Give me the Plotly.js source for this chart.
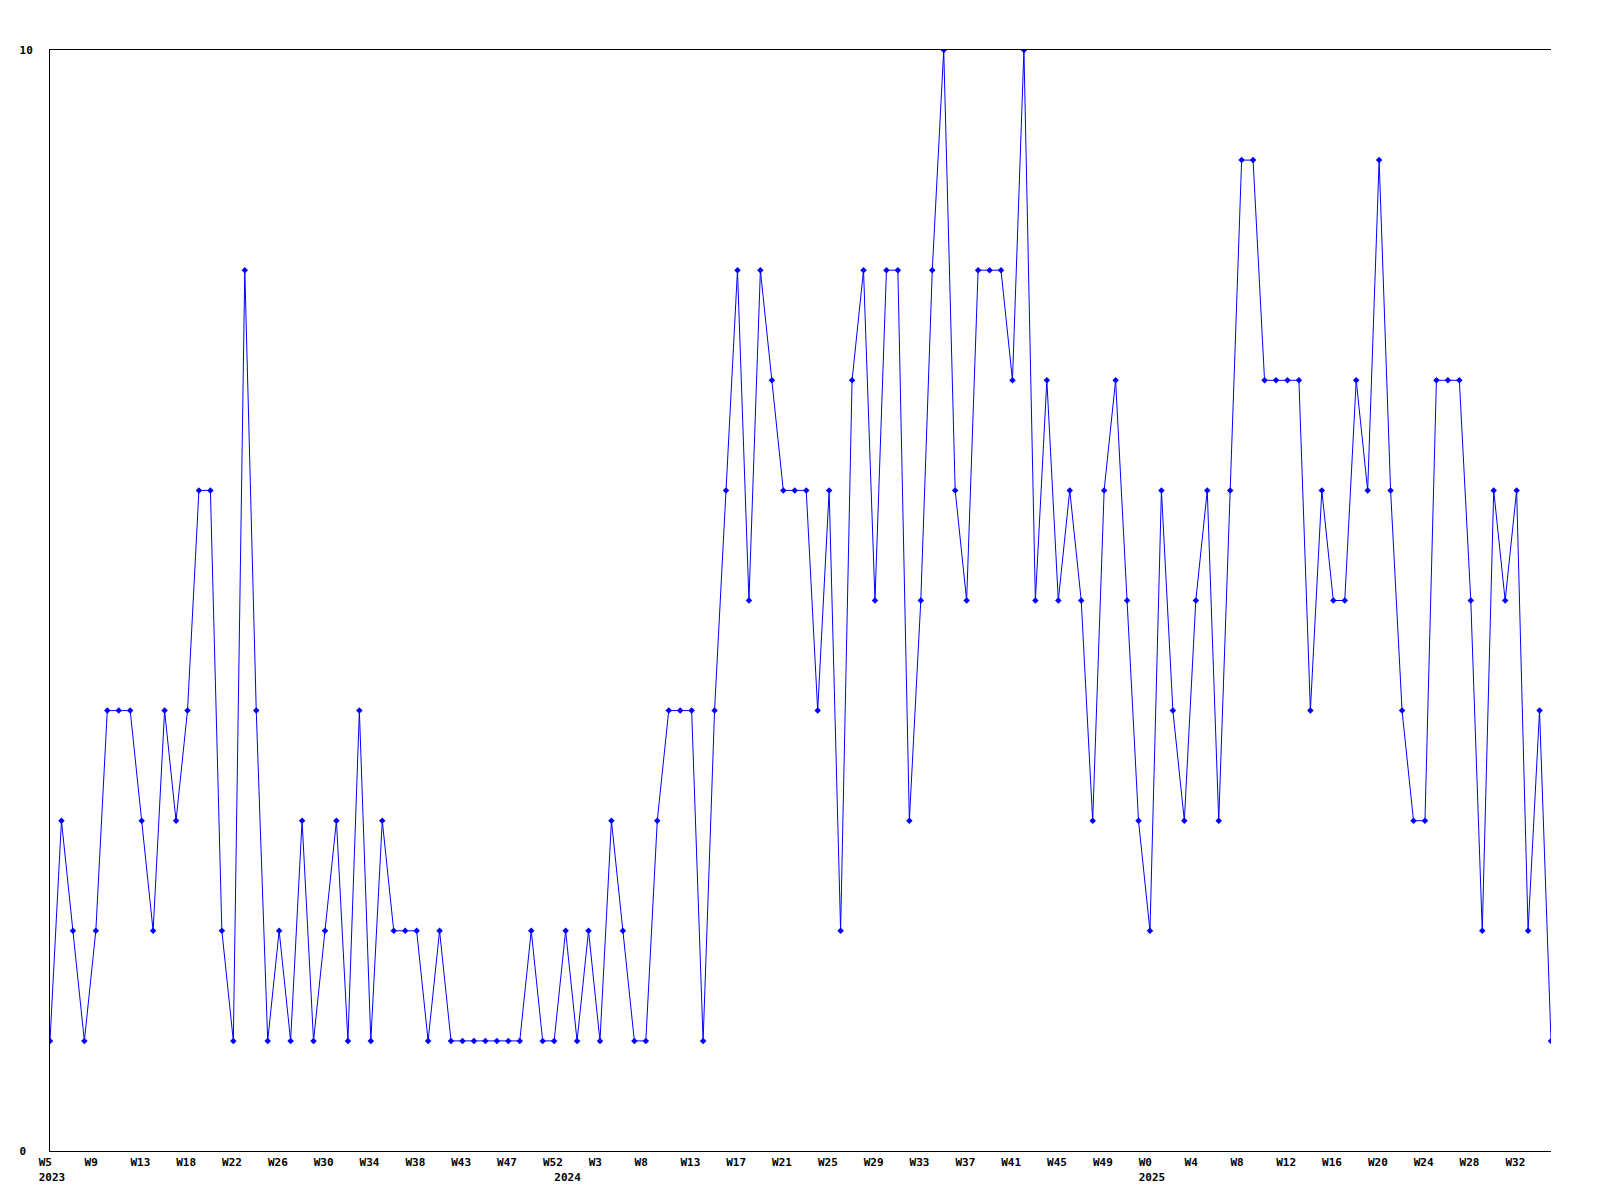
<!DOCTYPE html>
<html>
<head>
<meta charset="utf-8">
<script src="https://cdn.plot.ly/plotly-3.0.1.min.js"></script>
<style>html,body{margin:0;padding:0;background:#fff;}#chart{width:1600px;height:1200px;}</style>
</head>
<body>
<div id="chart"></div>
<script>
// Weekly values, 2023 W5 .. 2025 W35 (132 points)
const values = [
  1,3,2,1,2,4,4,4,3,2,4,3,4,6,6,2,1,8,4,1,
  2,1,3,1,2,3,1,4,1,3,2,2,2,1,2,1,1,1,1,1,
  1,1,2,1,1,2,1,2,1,3,2,1,1,3,4,4,4,1,4,6,
  8,5,8,7,6,6,6,4,6,2,7,8,5,8,8,3,5,8,10,6,
  5,8,8,8,7,10,5,7,5,6,5,3,6,7,5,3,2,6,4,3,
  5,6,3,6,9,9,7,7,7,7,4,6,5,5,7,6,9,6,4,3,
  3,7,7,7,5,2,6,5,6,2,4,1
];
// Labelled week ticks (every 4th point)
const weekTickIndex = [0,4,8,12,16,20,24,28,32,36,40,44,48,52,56,60,64,68,72,76,80,84,88,92,96,100,104,108,112,116,120,124,128];
const weekTickLabels = ["W5","W9","W13","W18","W22","W26","W30","W34","W38","W43","W47","W52","W3","W8","W13","W17","W21","W25","W29","W33","W37","W41","W45","W49","W0","W4","W8","W12","W16","W20","W24","W28","W32"];
// Year labels under the first week of each year
const yearIndex = [0,45,96];
const yearLabels = ["2023","2024","2025"];

const NB = "\u00a0";
const pad = s => s + NB.repeat(Math.max(0, 4 - s.length));

const xs = values.map((_, i) => i);

// build tick table
const tickMap = new Map();
weekTickIndex.forEach((ix, k) => tickMap.set(ix, {w: pad(weekTickLabels[k]), y: null}));
yearIndex.forEach((ix, k) => {
  const t = tickMap.get(ix) || {w: NB.repeat(4), y: null};
  t.y = yearLabels[k];
  tickMap.set(ix, t);
});
const tickvals = [...tickMap.keys()].sort((a,b)=>a-b);
const ticktext = tickvals.map(v => {
  const t = tickMap.get(v);
  return t.y ? (t.w + "<br>" + t.y) : t.w;
});

const tickFont = {family: "DejaVu Sans Mono", size: 11, color: "#000", weight: "bold"};

const trace = {
  x: xs,
  y: values,
  type: "scatter",
  mode: "lines+markers",
  line: {color: "#0000ff", width: 1},
  marker: {color: "#0000ff", symbol: "diamond", size: 5},
  hoverinfo: "skip"
};

const layout = {
  width: 1600,
  height: 1200,
  margin: {l: 50, r: 49, t: 50, b: 49, pad: 0},
  paper_bgcolor: "#fff",
  plot_bgcolor: "#fff",
  showlegend: false,
  xaxis: {
    range: [0, values.length - 1],
    showgrid: false,
    zeroline: false,
    showline: true,
    mirror: true,
    linecolor: "#000",
    linewidth: 1,
    ticks: "outside",
    ticklen: 1,
    tickcolor: "rgba(0,0,0,0)",
    tickmode: "array",
    tickvals: tickvals,
    ticktext: ticktext,
    ticklabelshift: 2,
    tickangle: 0,
    tickfont: tickFont
  },
  yaxis: {
    range: [0, 10],
    showgrid: false,
    zeroline: false,
    showline: true,
    linecolor: "#000",
    linewidth: 1,
    ticks: "outside",
    ticklen: 14,
    tickcolor: "rgba(0,0,0,0)",
    tickmode: "array",
    tickvals: [0, 10],
    ticktext: ["0" + NB, "10"],
    tickfont: tickFont
  }
};

Plotly.newPlot("chart", [trace], layout, {staticPlot: true, displayModeBar: false});
</script>
</body>
</html>
